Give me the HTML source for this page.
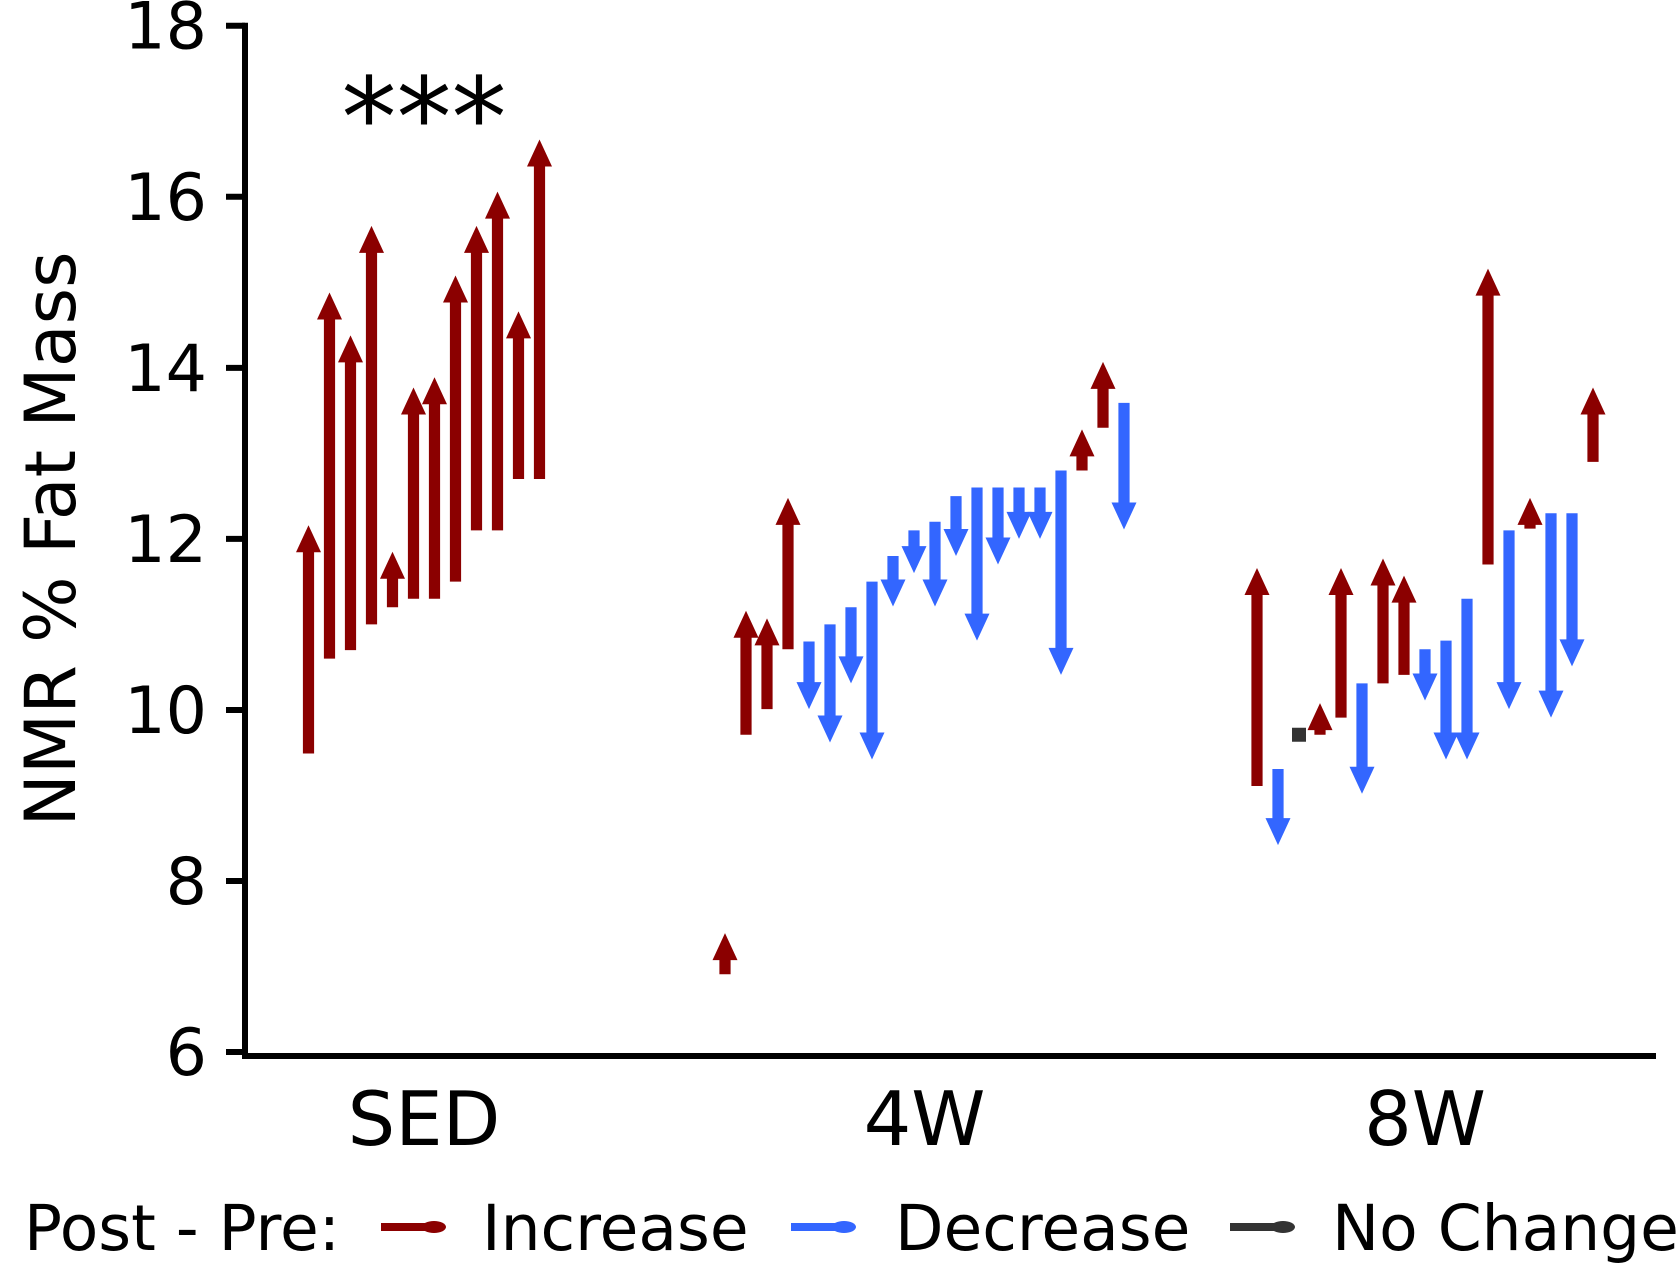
<!DOCTYPE html>
<html><head><meta charset="utf-8"><style>
html,body{margin:0;padding:0;background:#fff;}
svg{display:block;font-family:"DejaVu Sans","Liberation Sans",sans-serif;}
</style></head><body>
<svg id="chart" width="1680" height="1280" viewBox="0 0 1680 1280" xmlns="http://www.w3.org/2000/svg">
<g id="marks"></g>
<g id="axes"></g>
</svg>
<script>
const groups = ["SED", "4W", "8W"];
const sedPre  = [9.49,10.60,10.70,11.00,11.20,11.30,11.30,11.50,12.10,12.10,12.70,12.70];
const sedPost = [12.16,14.88,14.38,15.66,11.85,13.77,13.89,15.08,15.66,16.06,14.66,16.67];
const w4Pre  = [6.91,9.71,10.01,10.71,10.80,11.00,11.20,11.50,11.80,12.10,12.20,12.50,12.60,12.60,12.60,12.60,12.80,12.80,13.30,13.59];
const w4Post = [7.39,11.16,11.07,12.48,10.01,9.62,10.31,9.42,11.21,11.60,11.21,11.80,10.81,11.70,12.00,12.00,10.41,13.28,14.07,12.11];
const w8Pre  = [9.11,9.31,9.71,9.71,9.91,10.31,10.31,10.41,10.71,10.81,11.30,11.70,12.10,12.12,12.30,12.30,12.90];
const w8Post = [11.66,8.42,9.71,10.08,11.66,9.02,11.77,11.57,10.11,9.42,9.42,15.16,10.01,12.48,9.91,10.51,13.77];
const yTicks = [6,8,10,12,14,16,18];

const NS = "http://www.w3.org/2000/svg";
const yScale = v => 25.7 + (18 - v) * 85.53;
const xGroup = g => 424 + g * 500.5;
const SP = 21;
const COL = {up:"#8B0000", down:"#3366FF", none:"#333333"};
function mk(tag, attrs, parent){const e=document.createElementNS(NS,tag);for(const k in attrs)e.setAttribute(k,attrs[k]);parent.appendChild(e);return e;}

const marks = document.getElementById('marks');
const axes = document.getElementById('axes');
const series = [[sedPre,sedPost],[w4Pre,w4Post],[w8Pre,w8Post]];
series.forEach((s, g) => {
  const pre = s[0], post = s[1], n = pre.length;
  for (let i = 0; i < n; i++) {
    const x = xGroup(g) + (i - (n - 1) / 2) * SP;
    const y0 = yScale(pre[i]), y1 = yScale(post[i]);
    const hw = 5.6, HW = 12.5, HL = 27;
    let d, col;
    if (Math.abs(post[i] - pre[i]) < 1e-9) {
      col = COL.none;
      d = `M${x-7},${y0-7}L${x+7},${y0-7}L${x+7},${y0+7}L${x-7},${y0+7}Z`;
    } else {
      const dir = post[i] > pre[i] ? -1 : 1;
      col = dir < 0 ? COL.up : COL.down;
      const base = y1 - dir * HL;
      d = `M${x-hw},${y0}L${x-hw},${base}L${x-HW},${base}L${x},${y1}L${x+HW},${base}L${x+hw},${base}L${x+hw},${y0}Z`;
    }
    const p = mk('path', {d: d, fill: col}, marks);
    
    
  }
});

const yl = mk('line', {x1:245, y1:yScale(18)-3, x2:245, y2:1059, stroke:'#000', 'stroke-width':6}, axes);


const xl = mk('line', {x1:242, y1:1056, x2:1656, y2:1056, stroke:'#000', 'stroke-width':6}, axes);


yTicks.forEach(t => {
  const y = yScale(t);
  const tk = mk('line', {x1:226, y1:y, x2:245, y2:y, stroke:'#000', 'stroke-width':6}, axes);
  
  
  const tx = mk('text', {x:207, y:y+23, 'font-size':65, 'text-anchor':'end', fill:'#000'}, axes);
  tx.textContent = t;
  
  
});
groups.forEach((gname, g) => {
  const tx = mk('text', {x:xGroup(g), y:1145, 'font-size':75, 'text-anchor':'middle', fill:'#000'}, axes);
  tx.textContent = gname;
  
  
});
</script>
<svg style="position:absolute;left:0;top:0" width="1680" height="1280" xmlns="http://www.w3.org/2000/svg" font-family="DejaVu Sans, Liberation Sans, sans-serif">
  <text transform="translate(75,539) rotate(-90)" font-size="70" text-anchor="middle" fill="#000">NMR % Fat Mass</text>
  <text x="424" y="156" font-size="110" text-anchor="middle" fill="#000">***</text>
  <g>
    <text x="24" y="1250" font-size="63" fill="#000">Post - Pre:</text>
    <g>
      <line x1="381" y1="1227" x2="435" y2="1227" stroke="#8B0000" stroke-width="8"/>
      <ellipse cx="434" cy="1227" rx="12" ry="6" fill="#8B0000"/>
      <text x="482" y="1250" font-size="63" fill="#000">Increase</text>
    </g>
    <g>
      <line x1="791" y1="1227" x2="845" y2="1227" stroke="#3366FF" stroke-width="8"/>
      <ellipse cx="844" cy="1227" rx="12" ry="6" fill="#3366FF"/>
      <text x="895" y="1250" font-size="63" fill="#000">Decrease</text>
    </g>
    <g>
      <line x1="1230" y1="1227" x2="1284" y2="1227" stroke="#333333" stroke-width="8"/>
      <ellipse cx="1283" cy="1227" rx="12" ry="6" fill="#333333"/>
      <text x="1332" y="1250" font-size="63" fill="#000">No Change</text>
    </g>
  </g>
</svg>
</body></html>
